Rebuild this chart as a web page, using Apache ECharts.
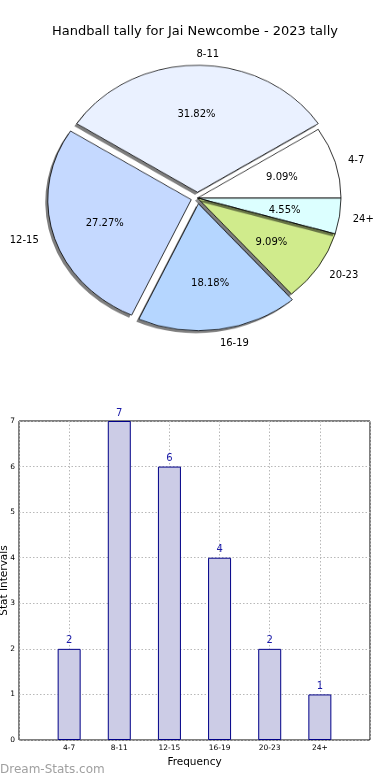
<!DOCTYPE html>
<html><head><meta charset="utf-8">
<script src="https://cdn.jsdelivr.net/npm/echarts@6/dist/echarts.min.js"></script>
<style>
html,body{margin:0;padding:0;background:#fff;}
#wrap{position:relative;width:390px;height:780px;overflow:hidden;background:#fff;}
#pie{position:absolute;left:0;top:0;width:390px;height:400px;transform:scaleY(0.885);transform-origin:0 0;z-index:0;}
#main{position:absolute;left:0;top:0;width:390px;height:780px;z-index:1;}
</style></head><body>
<div id="wrap"><div id="pie"></div><div id="main"></div></div>
<script>
// ---- data ----
const titleText = 'Handball tally for Jai Newcombe - 2023 tally';
const categories = ['4-7', '8-11', '12-15', '16-19', '20-23', '24+'];
const counts = [2, 7, 6, 4, 2, 1];
const sliceColors = ['#ffffff', '#eaf1ff', '#c5d9ff', '#b5d6ff', '#d0eb8c', '#dcffff'];
const exploded = [false, true, true, true, false, false];
const yMin = 0, yMax = 7, yStep = 1;

// ---- layout constants ----
const FONT = 'DejaVu Sans';
const CX = 197.5, CY = 198, R = 143.5, S = 0.885, OFF = 6.5, LABEL_DY = 1.5, LABEL_DX = -1;

const total = counts.reduce((a, b) => a + b, 0);
const midAngles = [];
(function () { let acc = 0; counts.forEach(v => { midAngles.push((acc + v / 2) / total * 2 * Math.PI); acc += v; }); })();

function pieLabelLayout(params) {
  const r = params.labelRect;
  const i = params.dataIndex;
  const a = midAngles[i];
  const off = exploded[i] ? OFF : 0;
  const lx = r.x + r.width / 2, ly = r.y + r.height / 2;
  return {
    x: lx + off * Math.cos(a) + LABEL_DX,
    y: CY + (ly - CY) * S - off * S * Math.sin(a) + LABEL_DY,
    align: 'center', verticalAlign: 'middle'
  };
}

function pieData(withColor) {
  return categories.map((c, i) => ({
    name: c, value: counts[i], selected: exploded[i],
    itemStyle: {color: withColor ? sliceColors[i] : 'rgba(0,0,0,0)'}
  }));
}

// ---- visible pie (elliptical via vertical scale) ----
const pieChart = echarts.init(document.getElementById('pie'), null, {renderer: 'canvas'});
const pieBase = {
  type: 'pie', center: [CX, CY / S], radius: R, startAngle: 0, clockwise: false,
  selectedMode: 'multiple', selectedOffset: OFF, avoidLabelOverlap: false,
  label: {show: false}, labelLine: {show: false}, emphasis: {disabled: true}, silent: true
};
pieChart.setOption({
  animation: false,
  series: [
    Object.assign({}, pieBase, {
      itemStyle: {borderWidth: 0, shadowColor: 'rgba(0,0,0,0.5)', shadowBlur: 0, shadowOffsetX: -2.5, shadowOffsetY: 2.8},
      select: {itemStyle: {borderWidth: 0}},
      data: pieData(true)
    }),
    Object.assign({}, pieBase, {
      itemStyle: {borderColor: '#000', borderWidth: 0.8},
      select: {itemStyle: {borderColor: '#000', borderWidth: 0.8}},
      data: pieData(false)
    })
  ]
});

// ---- main chart: title, pie labels, bar chart ----
const mainChart = echarts.init(document.getElementById('main'), null, {renderer: 'canvas'});
const txt = {fontFamily: FONT, color: '#000'};
mainChart.setOption({
  animation: false,
  backgroundColor: 'transparent',
  textStyle: {fontFamily: FONT},
  title: {
    text: titleText, left: 'center', top: 25, padding: 0,
    textStyle: {fontFamily: FONT, fontSize: 13, fontWeight: 'normal', color: '#000'}
  },
  grid: {left: 19, right: 20, top: 421, bottom: 40, containLabel: false, outerBoundsMode: 'none',
    show: true, borderColor: '#000', borderWidth: 1, backgroundColor: 'transparent'},
  xAxis: {
    type: 'value', min: 0, max: categories.length + 1, interval: 1,
    name: 'Frequency', nameLocation: 'middle', nameGap: 17, nameMoveOverlap: false,
    nameTextStyle: Object.assign({fontSize: 10.5}, txt),
    axisLine: {show: false}, axisTick: {show: false},
    axisLabel: Object.assign({fontSize: 7.5, margin: 4, formatter: v => categories[v - 1] || ''}, txt),
    splitLine: {show: true, lineStyle: {type: [1.5, 2], color: '#b8b8b8', width: 1}}
  },
  yAxis: {
    type: 'value', min: yMin, max: yMax, interval: yStep,
    name: 'Stat Intervals', nameLocation: 'middle', nameRotate: 90, nameGap: 9, nameMoveOverlap: false,
    nameTextStyle: Object.assign({fontSize: 10.5}, txt),
    axisLine: {show: false}, axisTick: {show: false},
    axisLabel: Object.assign({fontSize: 7.5, margin: 4}, txt),
    splitLine: {show: true, lineStyle: {type: [1.5, 2], color: '#b8b8b8', width: 1}}
  },
  series: [
    {
      type: 'bar',
      data: counts.map((v, i) => [i + 1, v]),
      barWidth: 23,
      itemStyle: {color: '#ccccE6', borderColor: '#000088', borderWidth: 1},
      label: {show: true, position: 'top', distance: 3, fontSize: 10, fontFamily: FONT, color: '#1a1aa8', formatter: p => p.value[1]},
      emphasis: {disabled: true},
      silent: true
    },
    {
      type: 'pie', center: [CX, CY], radius: R, startAngle: 0, clockwise: false,
      silent: true, avoidLabelOverlap: false,
      itemStyle: {color: 'rgba(0,0,0,0)', borderWidth: 0},
      label: {show: true, position: 'outside', formatter: '{b}', fontSize: 10, fontFamily: FONT, color: '#000', distanceToLabelLine: 0},
      labelLine: {show: false, length: R * 0.1, length2: 0},
      emphasis: {disabled: true},
      labelLayout: pieLabelLayout,
      data: categories.map((c, i) => ({name: c, value: counts[i]}))
    },
    {
      type: 'pie', center: [CX, CY], radius: [0, R * 1.2], startAngle: 0, clockwise: false,
      silent: true, avoidLabelOverlap: false,
      itemStyle: {color: 'rgba(0,0,0,0)', borderWidth: 0},
      label: {show: true, position: 'inside', formatter: '{d}%', fontSize: 10, fontFamily: FONT, color: '#000'},
      labelLine: {show: false},
      emphasis: {disabled: true},
      labelLayout: pieLabelLayout,
      data: categories.map((c, i) => ({name: c, value: counts[i]}))
    }
  ],
  graphic: [{
    type: 'text', left: 0, top: 764, silent: true,
    style: {text: 'Dream-Stats.com', fill: '#a0a0a0', font: '12px "DejaVu Sans"'}
  }]
});
</script>
</body></html>
